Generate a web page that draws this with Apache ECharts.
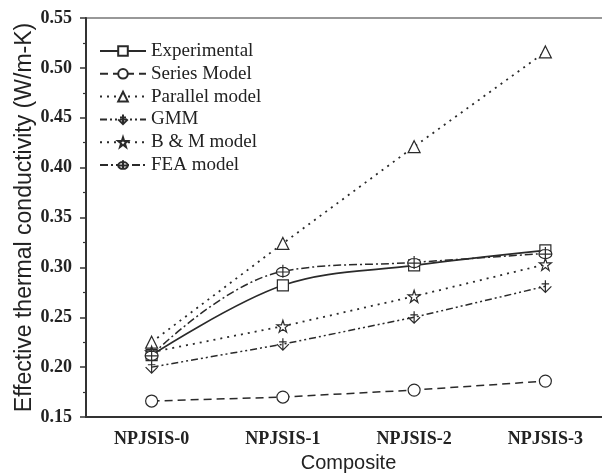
<!DOCTYPE html>
<html>
<head>
<meta charset="utf-8">
<script src="https://cdn.jsdelivr.net/npm/echarts@6/dist/echarts.min.js"></script>
<style>
  html, body { margin: 0; padding: 0; background: #fff; }
  #chart { width: 602px; height: 473px; }
</style>
</head>
<body>
<div id="chart"></div>
<script>
// Composites on the x axis
const composites = ['NPJSIS-0', 'NPJSIS-1', 'NPJSIS-2', 'NPJSIS-3'];

// Effective thermal conductivity (W/m-K) per composite
const experimental = [0.212, 0.282, 0.302, 0.317];
const seriesModel  = [0.166, 0.170, 0.177, 0.186];
const parallelModel = [0.225, 0.324, 0.421, 0.516];
const gmm          = [0.200, 0.223, 0.250, 0.281];
const bmModel      = [0.215, 0.241, 0.271, 0.303];
const feaModel     = [0.212, 0.296, 0.305, 0.314];

// Y axis range and step
const yMin = 0.15, yMax = 0.55, yStep = 0.05;

const ink = '#2a2a2a';

// Hand-made marker outlines
const starPath = 'path://M50 0 L61.8 35.4 L99 35.4 L69 57.3 L80.4 92.7 L50 70.8 L19.6 92.7 L31 57.3 L1 35.4 L38.2 35.4 Z';
const gmmPath = 'path://M50 0 L50 100 M10 50 L50 100 L90 50 M25 30 L75 30';
const feaPath = 'path://M50 0 L50 100 M15 55 L85 55 M15 55 A35 35 0 1 1 85 55 A35 35 0 1 1 15 55 Z';

function line(name, data, opts) {
  return Object.assign({
    name: name,
    type: 'line',
    data: data,
    symbolSize: 11,
    lineStyle: { color: ink, width: 1.5 },
    itemStyle: { color: '#fff', borderColor: ink, borderWidth: 1.2 },
    emphasis: { disabled: true },
    z: 3
  }, opts);
}

const chart = echarts.init(document.getElementById('chart'), null, { renderer: 'canvas' });

chart.setOption({
  animation: false,
  backgroundColor: '#fff',
  grid: {
    left: 86, top: 18, bottom: 56, width: 525,
    outerBoundsMode: 'none', containLabel: false,
    show: true, borderColor: '#777', borderWidth: 1.5, backgroundColor: 'transparent'
  },
  legend: {
    orient: 'vertical',
    left: 99, top: 41.5, padding: 0,
    itemWidth: 46, itemHeight: 12, itemGap: 3.8,
    textStyle: { fontFamily: 'Liberation Serif', fontSize: 19, color: '#222', lineHeight: 19 },
    data: ['Experimental', 'Series Model', 'Parallel model', 'GMM', 'B & M model', 'FEA model']
  },
  xAxis: {
    type: 'category',
    data: composites,
    boundaryGap: true,
    name: 'Composite',
    nameLocation: 'middle',
    nameGap: 36,
    nameMoveOverlap: false,
    nameTextStyle: { fontFamily: 'Liberation Sans', fontSize: 20, color: '#222' },
    axisLine: { lineStyle: { color: '#333', width: 2 } },
    axisTick: { alignWithLabel: true, length: 6, lineStyle: { color: '#333', width: 1.5 } },
    axisLabel: { fontFamily: 'Liberation Serif', fontWeight: 'bold', fontSize: 18, color: '#222', margin: 13 },
    splitLine: { show: false }
  },
  yAxis: {
    type: 'value',
    min: yMin, max: yMax, interval: yStep,
    name: 'Effective thermal conductivity (W/m-K)',
    nameLocation: 'middle',
    nameGap: 50,
    nameMoveOverlap: false,
    nameTextStyle: { fontFamily: 'Liberation Sans', fontSize: 23, color: '#222' },
    axisLine: { show: true, lineStyle: { color: '#333', width: 2 } },
    axisTick: { show: true, inside: false, length: 6, lineStyle: { color: '#333', width: 1.5 } },
    minorTick: { show: true, splitNumber: 2, length: 3, lineStyle: { color: '#333', width: 1.2 } },
    axisLabel: {
      fontFamily: 'Liberation Serif', fontWeight: 'bold', fontSize: 18, color: '#222', margin: 14,
      formatter: v => v.toFixed(2)
    },
    splitLine: { show: false }
  },
  series: [
    line('Experimental', experimental, {
      symbol: 'rect', smooth: 0.35,
      lineStyle: { color: ink, width: 1.6, type: 'solid' }
    }),
    line('Series Model', seriesModel, {
      symbol: 'circle', symbolSize: 12,
      lineStyle: { color: ink, width: 1.5, type: [8, 5] }
    }),
    line('Parallel model', parallelModel, {
      symbol: 'triangle', symbolSize: 12,
      lineStyle: { color: ink, width: 1.8, type: [2, 5] }
    }),
    line('GMM', gmm, {
      symbol: gmmPath, symbolSize: 12,
      itemStyle: { color: 'transparent', borderColor: ink, borderWidth: 1.2 },
      lineStyle: { color: ink, width: 1.5, type: [7, 3, 2, 3, 2, 3] }
    }),
    line('B & M model', bmModel, {
      symbol: starPath, symbolSize: 12,
      lineStyle: { color: ink, width: 1.8, type: [2, 5] }
    }),
    line('FEA model', feaModel, {
      symbol: feaPath, symbolSize: 13, smooth: 0.4,
      lineStyle: { color: ink, width: 1.5, type: [8, 3, 2, 3] }
    })
  ]
});
</script>
</body>
</html>
